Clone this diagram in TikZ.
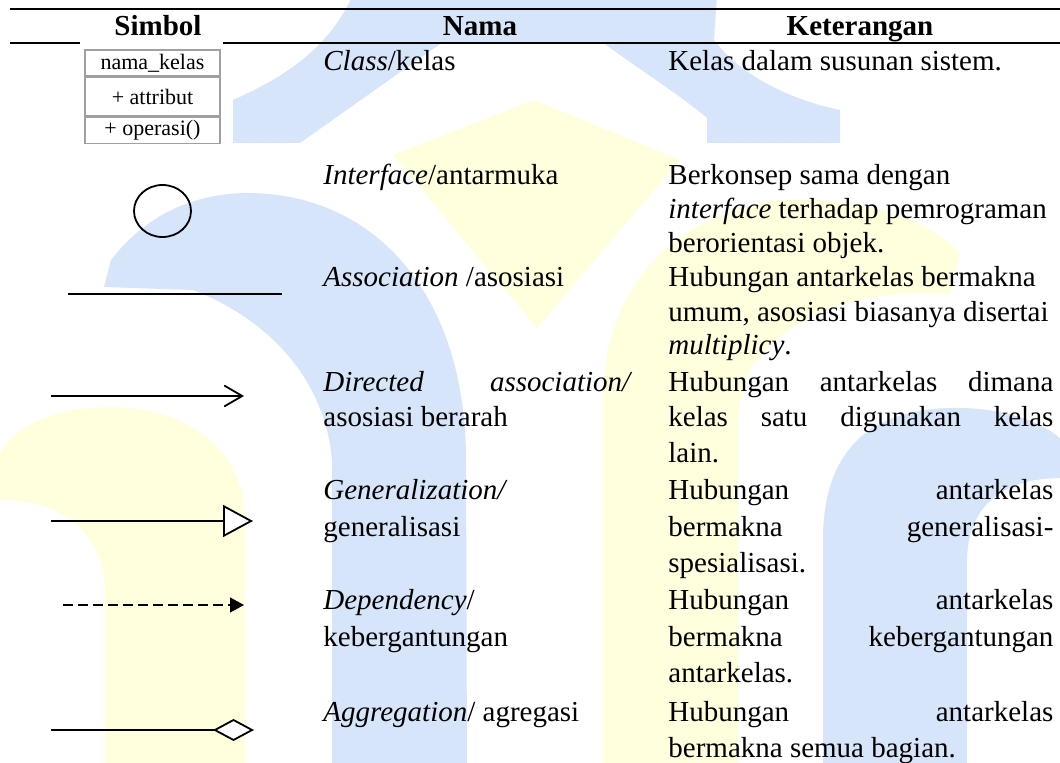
\documentclass[tikz,border=0pt]{standalone}
\usepackage{fontspec}
\setmainfont{Liberation Serif}
\usetikzlibrary{arrows.meta,shapes.geometric}
\definecolor{wmblue}{RGB}{214,229,250}
\definecolor{wmyellow}{RGB}{255,255,221}
\definecolor{boxgray}{RGB}{160,160,160}
\begin{document}
\begin{tikzpicture}[x=0.5pt,y=-0.5pt,
  txt/.style={anchor=base west, inner sep=0pt, font=\fontsize{14.5}{17}\selectfont},
  head/.style={anchor=base, inner sep=0pt, font=\fontsize{14.5}{17}\selectfont\bfseries},
  rule/.style={line width=1pt},
  sym/.style={line width=0.7pt},
  classcell/.style={draw=boxgray, line width=0.7pt, fill=white, minimum width=67.5pt, inner sep=0pt, font=\fontsize{11}{13}\selectfont},
  wmb/.style={fill=wmblue, draw=none},
  wmy/.style={fill=wmyellow, draw=none}]

\useasboundingbox (0,0) rectangle (1060,763);
\fill[white] (0,0) rectangle (1060,763);

% ---------- watermark ----------
% roof
\fill[wmb] (353,-5) -- (717,-5) -- (714,40) .. controls (740,75) and (790,100) .. (840,110)
  -- (840,143) -- (707,143) -- (707,118) .. controls (680,95) and (640,70) .. (605,44)
  -- (440,44) -- (300,143) -- (233,143) -- (233,100) .. controls (290,75) and (330,45) .. (353,-5) -- cycle;
% diamond
\fill[wmy] (534,100) -- (680,160) -- (537,328) -- (393,155) -- cycle;
% right yellow pillar
\fill[wmy] (603,770) -- (603,400) .. controls (603,290) and (670,215) .. (780,200)
  .. controls (860,195) and (930,220) .. (960,253) -- (950,295)
  .. controls (860,285) and (780,320) .. (750,370) .. controls (738,395) and (738,420) .. (738,440)
  -- (738,770) -- cycle;
% left blue hook pillar
\fill[wmb] (332,770) -- (332,460) .. controls (325,380) and (270,320) .. (193,290) -- (104,287)
  -- (111,260) .. controls (150,210) and (200,193) .. (250,193)
  .. controls (380,195) and (466,300) .. (466,460) -- (467,770) -- cycle;
% right blue pillar
\fill[wmb] (823,770) -- (823,540) .. controls (823,450) and (870,410) .. (950,408)
  .. controls (1000,407) and (1040,420) .. (1062,440) -- (1062,478)
  .. controls (1010,478) and (968,500) .. (967,560) -- (967,770) -- cycle;
% left yellow pillar
\fill[wmy] (105,770) -- (105,585) .. controls (100,530) and (60,500) .. (0,500) -- (-2,500)
  -- (-2,455) .. controls (20,420) and (60,408) .. (110,407)
  .. controls (190,408) and (245,450) .. (245,520) -- (245,770) -- cycle;

% ---------- table rules ----------
\draw[rule] (10,9.3) -- (1060,9.3);
\draw[rule] (10,43.3) -- (1060,43.3);

% ---------- headers ----------
\node[head] (hsym) at (158,36) {Simbol};
\node[head] (hnam) at (480,36) {Nama};
\node[head] (hket) at (860,36) {Keterangan};

% ---------- symbols ----------
\fill[white] (80,42) rectangle (223,145);
\node[classcell, minimum height=12.85pt, anchor=north] (cname) at (152.5,49.3) {nama\_kelas};
\node[classcell, minimum height=19.5pt, anchor=north] (cattr) at (cname.south) {+ attribut};
\node[classcell, minimum height=13pt, anchor=north] (cop) at (cattr.south) {+ operasi()};

\node[draw, ellipse, line width=0.9pt, minimum width=28.5pt, minimum height=26pt, inner sep=0pt] (iface) at (162.5,211) {};

\coordinate (as1) at (68,294);
\coordinate (as2) at (282,294);
\draw[sym] (as1) -- (as2);

\coordinate (da1) at (51,396);
\coordinate (da2) at (244,396);
\draw[line width=0.9pt, -{Straight Barb[length=9pt,width=10.5pt]}] (da1) -- (da2);

\coordinate (ge1) at (51,521);
\coordinate (ge2) at (253,521);
\draw[sym, -{Triangle[open, fill=white, line width=0.9pt, length=15pt, width=16pt]}] (ge1) -- (ge2);

\coordinate (de1) at (63,605);
\coordinate (de2) at (244,605);
\draw[sym, dash pattern=on 4.75pt off 2.75pt, -{Triangle[length=7pt, width=7.5pt]}] (de1) -- (de2);

\coordinate (ag1) at (51,730);
\coordinate (ag2) at (254,730);
\draw[sym, -{Diamond[open, fill=white, line width=0.9pt, length=20.5pt, width=11pt]}] (ag1) -- (ag2);

% ---------- Nama column ----------
\node[txt] (n1) at (323,71) {\textit{Class}/kelas};
\node[txt] (n2) at (323,185) {\textit{Interface}/antarmuka};
\node[txt] (n3) at (323,287) {\textit{Association} /asosiasi};
\node[txt] (n4a) at (323,392) {\makebox[154.5pt][s]{\textit{Directed association/}}};
\node[txt] (n4b) at (323,427) {asosiasi berarah};
\node[txt] (n5a) at (323,500) {\textit{Generalization/}};
\node[txt] (n5b) at (323,537) {generalisasi};
\node[txt] (n6a) at (323,610) {\textit{Dependency}/};
\node[txt] (n6b) at (323,647) {kebergantungan};
\node[txt] (n7) at (323,722) {\textit{Aggregation}/ agregasi};

% ---------- Keterangan column ----------
\node[txt] (k1) at (668,71) {Kelas dalam susunan sistem.};
\node[txt] (k2a) at (668,185) {Berkonsep sama dengan};
\node[txt] (k2b) at (668,219) {\textit{interface} terhadap pemrograman};
\node[txt] (k2c) at (668,253) {berorientasi objek.};
\node[txt] (k3a) at (668,287) {Hubungan antarkelas bermakna};
\node[txt] (k3b) at (668,322) {umum, asosiasi biasanya disertai};
\node[txt] (k3c) at (668,355) {\textit{multiplicy}.};
\node[txt] (k4a) at (668,392) {\makebox[192.5pt][s]{Hubungan antarkelas dimana}};
\node[txt] (k4b) at (668,427) {\makebox[192.5pt][s]{kelas satu digunakan kelas}};
\node[txt] (k4c) at (668,463) {lain.};
\node[txt] (k5a) at (668,500) {\makebox[192.5pt][s]{Hubungan antarkelas}};
\node[txt] (k5b) at (668,537) {\makebox[192.5pt][s]{bermakna generalisasi-}};
\node[txt] (k5c) at (668,573) {spesialisasi.};
\node[txt] (k6a) at (668,610) {\makebox[192.5pt][s]{Hubungan antarkelas}};
\node[txt] (k6b) at (668,647) {\makebox[192.5pt][s]{bermakna kebergantungan}};
\node[txt] (k6c) at (668,683) {antarkelas.};
\node[txt] (k7a) at (668,722) {\makebox[192.5pt][s]{Hubungan antarkelas}};
\node[txt] (k7b) at (668,757) {bermakna semua bagian.};
\end{tikzpicture}
\end{document}
